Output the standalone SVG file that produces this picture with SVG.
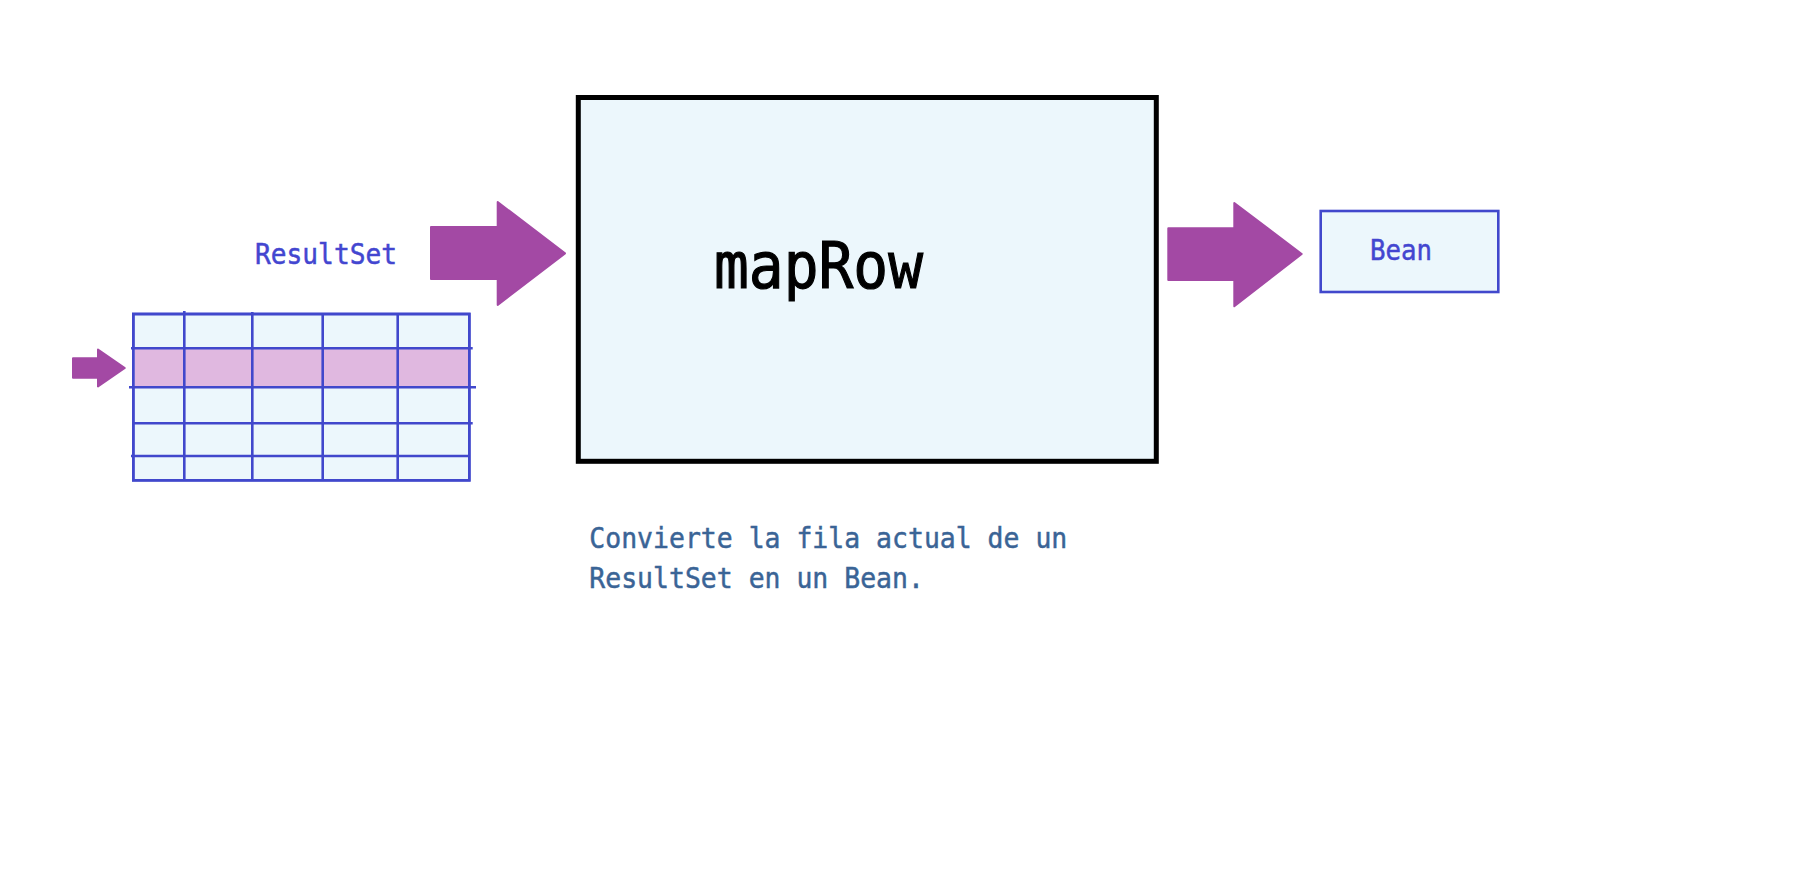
<svg xmlns="http://www.w3.org/2000/svg" width="1816" height="881" viewBox="0 0 1816 881">
<style>
.bg{fill:#ffffff}
.cell{fill:#ECF7FC;stroke:#4148CC;stroke-width:2.6}
.grid{stroke:#4148CC;stroke-width:2.6;fill:none}
.sel{fill:#E0B8E0}
.arrow{fill:#A349A4;stroke:#A349A4;stroke-width:2;stroke-linejoin:round}
.main{fill:#ECF7FC;stroke:#000000;stroke-width:5}
.bean{fill:#ECF7FC;stroke:#4148CC;stroke-width:2.6}
.mono{font-family:"DejaVu Sans Mono","Liberation Mono",monospace}
.lbl{fill:#4346D0;stroke:#4346D0;stroke-width:0.5;font-size:29px}
.title{fill:#000000;stroke:#000000;stroke-width:1.2;font-size:64px}
.desc{fill:#3A6496;stroke:#3A6496;stroke-width:0.5;font-size:29px}
</style>
<rect class="bg" x="0" y="0" width="1816" height="881"/>

<g id="resultset">
  <rect class="cell" x="133.3" y="314" width="336" height="166.3"/>
  <rect class="sel" x="134.6" y="348.3" width="333.4" height="39"/>
  <g class="grid">
    <line x1="184.3" y1="311" x2="184.3" y2="480.3"/>
    <line x1="252.3" y1="312" x2="252.3" y2="480.3"/>
    <line x1="322.7" y1="314" x2="322.7" y2="480.3"/>
    <line x1="397.7" y1="314" x2="397.7" y2="480.3"/>
    <line x1="131" y1="348.3" x2="472.7" y2="348.3"/>
    <line x1="129" y1="387.3" x2="476" y2="387.3"/>
    <line x1="133.3" y1="423.3" x2="472.7" y2="423.3"/>
    <line x1="131" y1="456" x2="469.3" y2="456"/>
    <rect x="133.3" y="314" width="336" height="166.3"/>
  </g>
  <text class="mono lbl" x="255" y="264" textLength="142" lengthAdjust="spacingAndGlyphs">ResultSet</text>
</g>

<g id="maprow">
  <rect class="main" x="578.3" y="97.5" width="578" height="363.8"/>
  <text class="mono title" x="714" y="288.3" textLength="209" lengthAdjust="spacingAndGlyphs">mapRow</text>
</g>

<g id="bean">
  <rect class="bean" x="1320.7" y="211" width="177.6" height="81"/>
  <text class="mono lbl" x="1370" y="259.5" textLength="62" lengthAdjust="spacingAndGlyphs">Bean</text>
</g>

<g id="description">
  <text class="mono desc" x="589.3" y="547.8" textLength="478" lengthAdjust="spacingAndGlyphs">Convierte la fila actual de un</text>
  <text class="mono desc" x="589.3" y="588.3" textLength="334.6" lengthAdjust="spacingAndGlyphs">ResultSet en un Bean.</text>
</g>

<g id="connectors">
  <polygon class="arrow" points="73,358.3 98,358.3 98,349.5 124.8,368 98,386.5 98,377.7 73,377.7"/>
  <polygon class="arrow" points="431,227 497.7,227 497.7,202 565,253.4 497.7,305 497.7,279 431,279"/>
  <polygon class="arrow" points="1168.3,228.3 1234.3,228.3 1234.3,203 1301.7,254 1234.3,306.3 1234.3,280 1168.3,280"/>
</g>
</svg>
